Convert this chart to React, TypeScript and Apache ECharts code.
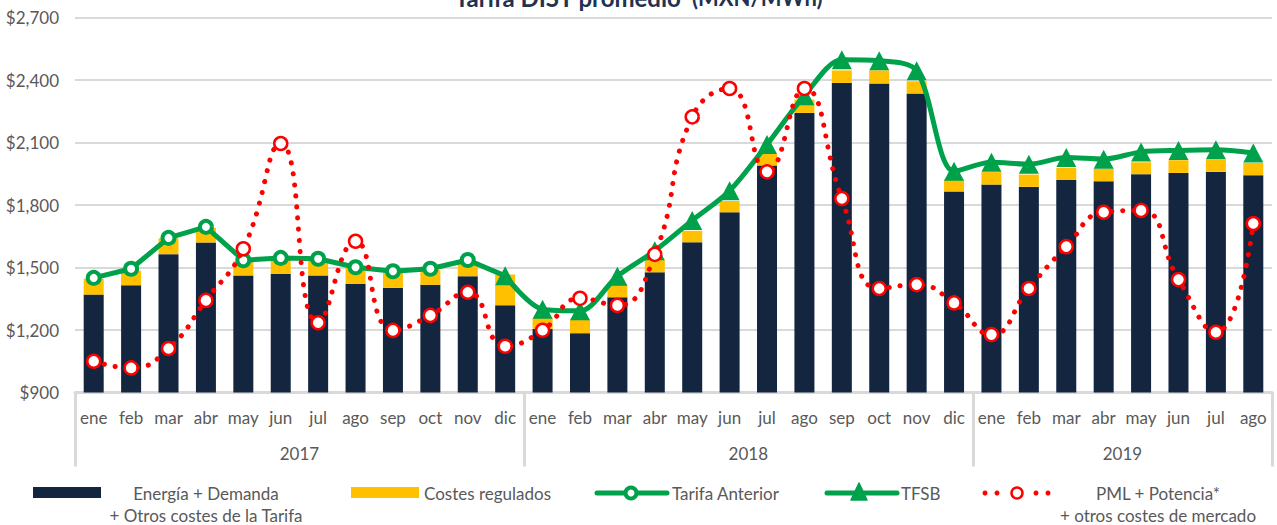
import React, { useEffect, useRef } from "react";
import * as echarts from "echarts";

const FONT = "Lato";
const TEXT_GRAY = "#595959";
const GRID_GRAY = "#D9D9D9";
const NAVY = "#13253F";
const YELLOW = "#FFC000";
const GREEN = "#00A14B";
const RED = "#FF0000";

const monthNames = ["ene", "feb", "mar", "abr", "may", "jun", "jul", "ago", "sep", "oct", "nov", "dic"];
const months: string[] = [...monthNames, ...monthNames, ...monthNames.slice(0, 8)];
const years = ["2017", "2018", "2019"];
const yearBounds = [0, 12, 24, 32];
const yearCenters = [6, 18, 28];

const energiaDemanda = [
  1370, 1415, 1564, 1620, 1462, 1470, 1462, 1422, 1402, 1417, 1458, 1319,
  1205, 1185, 1357, 1477, 1621, 1765, 1990, 2242, 2386, 2383, 2335, 1865,
  1898, 1887, 1921, 1914, 1948, 1954, 1959, 1943,
];
const costesRegulados = [
  76, 70, 76, 70, 68, 68, 73, 76, 73, 71, 72, 147,
  53, 63, 61, 61, 55, 54, 57, 64, 60, 63, 59, 57,
  60, 59, 57, 60, 57, 61, 59, 59,
];
const tarifaAnterior = [1450, 1494, 1642, 1695, 1535, 1546, 1542, 1501, 1482, 1494, 1536, 1460];
const tfsb = [
  1460,
  1300, 1292, 1458, 1580, 1726, 1868, 2090, 2325, 2497, 2493, 2445, 1962,
  2005, 1996, 2028, 2020, 2055, 2062, 2065, 2050,
];
const tfsbStart = 11;
const pml = [
  1050, 1018, 1111, 1342, 1590, 2095, 1235, 1626, 1198, 1270, 1381, 1122,
  1199, 1352, 1318, 1563, 2223, 2359, 1959, 2359, 1831, 1399, 1418, 1330,
  1178, 1399, 1600, 1765, 1774, 1442, 1189, 1711,
];
const yTicks = { min: 900, max: 2700, interval: 300 };

export default function App() {
  const ref = useRef<HTMLDivElement>(null);
  useEffect(() => {
    if (!ref.current) return;
    const chart = echarts.init(ref.current, null, { renderer: "svg" });

    const taData = months.map((_, i) => {
      if (i >= tarifaAnterior.length) return null;
      if (i === tarifaAnterior.length - 1) return { value: tarifaAnterior[i], symbol: "none" };
      return tarifaAnterior[i];
    });
    const tfsbData = months.map((_, i) => (i >= tfsbStart ? tfsb[i - tfsbStart] : null));

    const legendY = 493;
    const legendText = (text: string, x: number, align: string, multi: boolean) => ({
      type: "text",
      x,
      y: multi ? 482 : legendY,
      style: {
        text,
        fill: TEXT_GRAY,
        font: `17px ${FONT}`,
        textAlign: align,
        textVerticalAlign: multi ? "top" : "middle",
        lineHeight: 22,
      },
    });

    chart.setOption({
      animation: false,
      title: {
        text: "{b|Tarifa DIST promedio}{n|  (MXN/MWh)}",
        left: "center",
        top: -15,
        padding: 0,
        textStyle: {
          rich: {
            b: { fontFamily: FONT, fontWeight: "bold", fontSize: 24, color: "#1F3251" },
            n: { fontFamily: FONT, fontSize: 22, color: "#1F3251" },
          },
        },
      },
      grid: { left: 75, right: 5, top: 17.5, bottom: 132.5 },
      xAxis: [
        {
          type: "category",
          data: months,
          axisTick: { show: false },
          axisLine: { lineStyle: { color: GRID_GRAY, width: 3 } },
          axisLabel: { color: TEXT_GRAY, fontSize: 17, fontFamily: FONT, margin: 16, interval: 0 },
          z: 1,
        },
        {
          type: "value",
          min: 0,
          max: 32,
          position: "bottom",
          axisLine: { show: false },
          splitLine: { show: false },
          axisTick: {
            show: true,
            customValues: yearBounds,
            length: 74,
            lineStyle: { color: GRID_GRAY, width: 3 },
          },
          axisLabel: {
            customValues: yearCenters,
            formatter: (v: number) => years[yearCenters.indexOf(v)] ?? "",
            color: TEXT_GRAY,
            fontSize: 17,
            fontFamily: FONT,
            margin: 52,
          },
        },
      ],
      yAxis: {
        type: "value",
        min: yTicks.min,
        max: yTicks.max,
        interval: yTicks.interval,
        axisLine: { show: false },
        axisTick: { show: false },
        splitLine: { lineStyle: { color: GRID_GRAY, width: 2 } },
        axisLabel: {
          color: TEXT_GRAY,
          fontSize: 17,
          fontFamily: FONT,
          margin: 16,
          formatter: (v: number) => "$" + v.toLocaleString("en-US"),
        },
      },
      series: [
        {
          name: "Energía + Demanda + Otros costes de la Tarifa",
          type: "bar",
          stack: "total",
          data: energiaDemanda,
          barWidth: 20,
          itemStyle: { color: NAVY },
          z: 2,
        },
        {
          name: "Costes regulados",
          type: "bar",
          stack: "total",
          data: costesRegulados,
          barWidth: 20,
          itemStyle: { color: YELLOW },
          z: 2,
        },
        {
          name: "Tarifa Anterior",
          type: "line",
          data: taData,
          symbol: "circle",
          symbolSize: 12,
          showAllSymbol: true,
          lineStyle: { color: GREEN, width: 5 },
          itemStyle: { color: "#FFFFFF", borderColor: GREEN, borderWidth: 4 },
          z: 3,
        },
        {
          name: "TFSB",
          type: "line",
          data: tfsbData,
          smooth: 0.3,
          symbol: "triangle",
          symbolSize: [20, 19],
          showAllSymbol: true,
          lineStyle: { color: GREEN, width: 5 },
          itemStyle: { color: GREEN },
          z: 4,
        },
        {
          name: "PML + Potencia* + otros costes de mercado",
          type: "line",
          data: pml,
          smooth: 0.5,
          symbol: "circle",
          symbolSize: 13,
          showAllSymbol: true,
          lineStyle: { color: RED, width: 5, type: [0.1, 11], cap: "round" },
          itemStyle: { color: "#FFFFFF", borderColor: RED, borderWidth: 2.5 },
          z: 5,
        },
      ],
      graphic: [
        { type: "rect", shape: { x: 33, y: 487, width: 68, height: 11 }, style: { fill: NAVY } },
        legendText("Energía + Demanda\n+ Otros costes de la Tarifa", 206, "center", true),
        { type: "rect", shape: { x: 351, y: 487, width: 68, height: 11 }, style: { fill: YELLOW } },
        legendText("Costes regulados", 424, "left", false),
        { type: "line", shape: { x1: 597, y1: legendY, x2: 667, y2: legendY }, style: { stroke: GREEN, lineWidth: 5, lineCap: "round" } },
        { type: "circle", shape: { cx: 631, cy: legendY, r: 5.5 }, style: { fill: "#FFFFFF", stroke: GREEN, lineWidth: 4 } },
        legendText("Tarifa Anterior", 672, "left", false),
        { type: "line", shape: { x1: 827, y1: legendY, x2: 897, y2: legendY }, style: { stroke: GREEN, lineWidth: 5, lineCap: "round" } },
        { type: "polygon", shape: { points: [[859, 483], [851, 500], [867, 500]] }, style: { fill: GREEN, stroke: GREEN, lineWidth: 1.5, lineJoin: "round" } },
        legendText("TFSB", 901, "left", false),
        { type: "circle", shape: { cx: 985, cy: legendY, r: 2.5 }, style: { fill: RED } },
        { type: "circle", shape: { cx: 997, cy: legendY, r: 2.5 }, style: { fill: RED } },
        { type: "circle", shape: { cx: 1017, cy: legendY, r: 5.5 }, style: { fill: "#FFFFFF", stroke: RED, lineWidth: 2.5 } },
        { type: "circle", shape: { cx: 1036, cy: legendY, r: 2.5 }, style: { fill: RED } },
        { type: "circle", shape: { cx: 1048, cy: legendY, r: 2.5 }, style: { fill: RED } },
        legendText("PML + Potencia*\n+ otros costes de mercado", 1158, "center", true),
      ],
    });
    return () => chart.dispose();
  }, []);

  return (
    <div
      ref={ref}
      style={{ position: "fixed", left: 0, top: 0, width: 1277, height: 525, background: "#FFFFFF" }}
    />
  );
}
